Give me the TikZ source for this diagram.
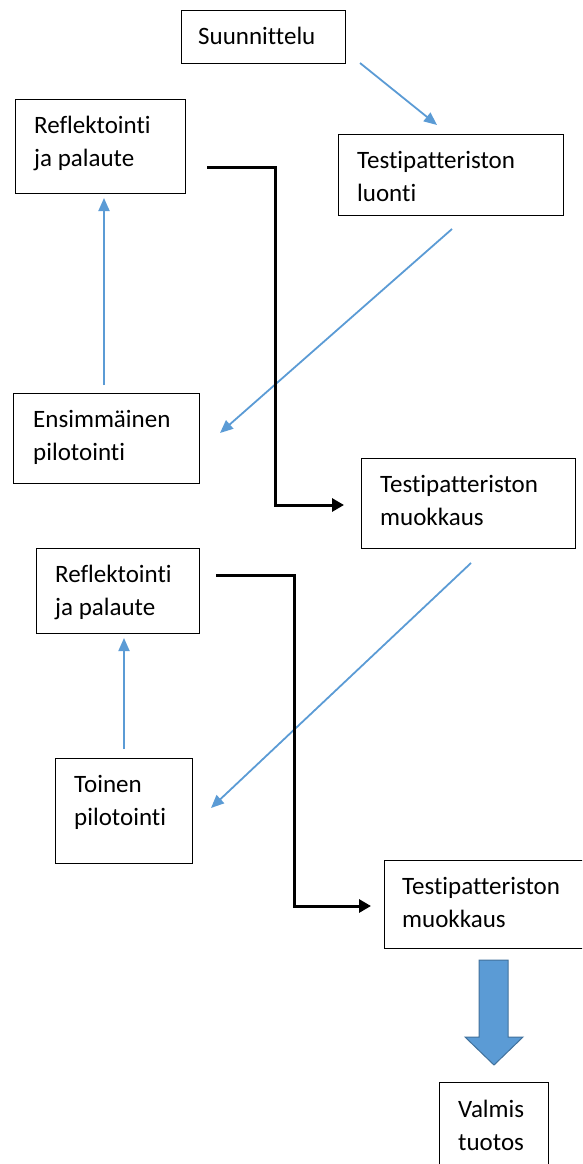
\documentclass[tikz,border=0pt]{standalone}
\usepackage{fontspec}
\setmainfont{Carlito}[Ligatures=NoCommon]
\usetikzlibrary{arrows.meta}
\definecolor{lblue}{HTML}{5B9BD5}
\definecolor{dblue}{HTML}{41719C}
\begin{document}
\begin{tikzpicture}[x=1pt,y=-1pt,
  box/.style={draw=black, line width=1.4pt, rectangle, inner sep=0pt, anchor=north west},
  txt/.style={inner sep=0pt, align=left, font=\fontsize{25}{33.5}\selectfont, anchor=base west},
  bline/.style={draw=lblue, line width=1.8pt, -{Triangle[length=13pt,width=11pt]}},
  kline/.style={draw=black, line width=3pt, line join=miter, -{Triangle[length=12pt,width=13pt]}}]
\useasboundingbox (0,0) rectangle (582,1164);
\begin{scope}
\clip (0,0) rectangle (582,1164);
% boxes
\node[box, minimum width=164pt, minimum height=53pt] (b1) at (181,10) {};
\node[box, minimum width=170pt, minimum height=94pt] (b2) at (15,99) {};
\node[box, minimum width=225pt, minimum height=81pt] (b3) at (338,134) {};
\node[box, minimum width=186pt, minimum height=90pt] (b4) at (13,393) {};
\node[box, minimum width=214pt, minimum height=90pt] (b5) at (361,458) {};
\node[box, minimum width=163pt, minimum height=85pt] (b6) at (36,548) {};
\node[box, minimum width=137pt, minimum height=105pt] (b7) at (55,758) {};
\node[box, minimum width=210pt, minimum height=88pt] (b8) at (384,860) {};
\node[box, minimum width=109pt, minimum height=100pt] (b9) at (439,1082) {};
\end{scope}
% texts (anchor at baseline of the last line)
\node[txt] (t1) at (198,45) {Suunnittelu};
\node[txt] (t2) at (34,166.5) {Reflektointi\\ja palaute};
\node[txt] (t3) at (357,201.5) {Testipatteriston\\luonti};
\node[txt] (t4) at (33,460.5) {Ensimmäinen\\pilotointi};
\node[txt] (t5) at (380,525.5) {Testipatteriston\\muokkaus};
\node[txt] (t6) at (55,615.5) {Reflektointi\\ja palaute};
\node[txt] (t7) at (74,825.5) {Toinen\\pilotointi};
\node[txt] (t8) at (402,927.5) {Testipatteriston\\muokkaus};
\node[txt] (t9) at (458,1150.5) {Valmis\\tuotos};
% connector ends
\coordinate (c1s) at (360,63);  \coordinate (c1e) at (437,125);
\coordinate (c2s) at (452,229); \coordinate (c2e) at (220,433);
\coordinate (c3s) at (104,385); \coordinate (c3e) at (104,198);
\coordinate (c4s) at (471,563); \coordinate (c4e) at (211,808);
\coordinate (c5s) at (124,749); \coordinate (c5e) at (124,638);
\coordinate (k1s) at (207,167); \coordinate (k1e) at (344,505);
\coordinate (k2s) at (216,575); \coordinate (k2e) at (371,906);
\draw[bline] (c1s) -- (c1e);
\draw[bline] (c2s) -- (c2e);
\draw[bline] (c3s) -- (c3e);
\draw[bline] (c4s) -- (c4e);
\draw[bline] (c5s) -- (c5e);
\draw[kline] (k1s) -- (275,167) -- (275,505) -- (k1e);
\draw[kline] (k2s) -- (294,575) -- (294,906) -- (k2e);
% block arrow
\draw[draw=dblue, fill=lblue, line width=1pt, line join=miter]
  (479,960) -- (508,960) -- (508,1037) -- (523,1037) -- (494,1065) -- (465,1037) -- (479,1037) -- cycle;
\end{tikzpicture}
\end{document}
